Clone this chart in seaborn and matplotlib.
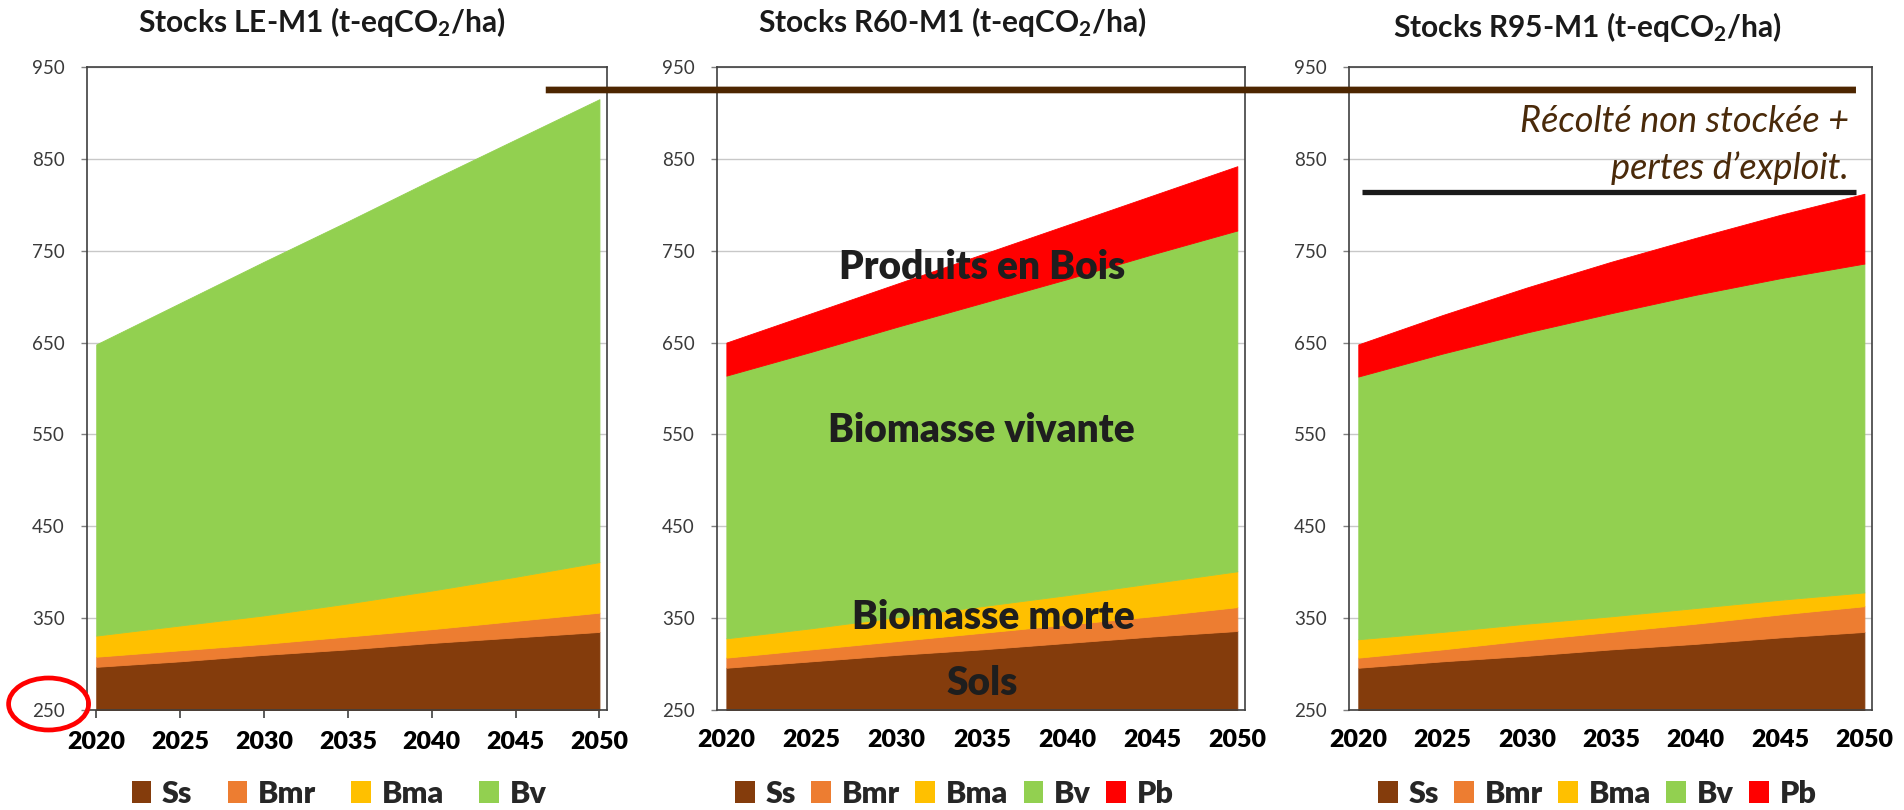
import numpy as np
import matplotlib
matplotlib.use("Agg")
import matplotlib.pyplot as plt
import seaborn as sns
from matplotlib.patches import Patch, Ellipse, ConnectionPatch

# ---------------- data ----------------
years = [2020, 2025, 2030, 2035, 2040, 2045, 2050]
legend_labels = ["Ss", "Bmr", "Bma", "Bv", "Pb"]
colors = ["#843C0C", "#ED7D31", "#FFC000", "#92D050", "#FF0000"]

titles = ["Stocks LE-M1 (t-eqCO$_2$/ha)",
          "Stocks R60-M1 (t-eqCO$_2$/ha)",
          "Stocks R95-M1 (t-eqCO$_2$/ha)"]

# cumulative upper boundaries of each stacked layer (t-eqCO2/ha)
le_ss_top  = [297, 303, 310, 316, 323, 329, 335]
le_bmr_top = [308, 315, 322, 330, 338, 347, 356]
le_bma_top = [331, 342, 353, 366, 380, 395, 411]
le_bv_top  = [648, 693, 738, 782, 827, 871, 915]

r60_ss_top  = [296, 303, 310, 316, 323, 330, 336]
r60_bmr_top = [307, 316, 325, 334, 343, 352, 362]
r60_bma_top = [328, 339, 351, 363, 375, 388, 401]
r60_bv_top  = [614, 640, 667, 693, 719, 746, 772]
r60_pb_top  = [650, 682, 714, 746, 778, 810, 842]

r95_ss_top  = [296, 303, 309, 316, 322, 329, 335]
r95_bmr_top = [307, 316, 326, 335, 344, 354, 363]
r95_bma_top = [327, 335, 344, 352, 361, 370, 378]
r95_bv_top  = [613, 638, 661, 682, 702, 720, 736]
r95_pb_top  = [648, 680, 710, 738, 764, 789, 812]

y_ticks = [250, 350, 450, 550, 650, 750, 850, 950]
x_ticks = [2020, 2025, 2030, 2035, 2040, 2045, 2050]

# annotation reference levels
ref_le_level = 925
ref_r95_level = 814


def layers(*tops):
    tops = [np.asarray(t, float) for t in tops]
    out = [tops[0]]
    for a, b in zip(tops[:-1], tops[1:]):
        out.append(b - a)
    return out


panels = [
    layers(le_ss_top, le_bmr_top, le_bma_top, le_bv_top),
    layers(r60_ss_top, r60_bmr_top, r60_bma_top, r60_bv_top, r60_pb_top),
    layers(r95_ss_top, r95_bmr_top, r95_bma_top, r95_bv_top, r95_pb_top),
]

# ---------------- style ----------------
sns.set_theme(style="white")
plt.rcParams['font.family'] = ['Lato', 'DejaVu Sans']
plt.rcParams['mathtext.default'] = 'regular'

W, H = 1904, 810
fig = plt.figure(figsize=(W / 100, H / 100), dpi=100)
fig.patch.set_facecolor("white")

frames = [(87, 607), (717, 1245), (1349, 1872)]
ytop, ybot = 67, 710
title_x = [322, 952, 1587]
title_y = [22, 22, 27]
legend_dx = [-0.015, -0.05, -0.025]
legend_colsp = [1.15, 0.5, 0.5]

axes = []
for i, (x0, x1) in enumerate(frames):
    ax = fig.add_axes([x0 / W, 1 - ybot / H, (x1 - x0) / W, (ybot - ytop) / H])
    axes.append(ax)
    comps = panels[i]
    ax.stackplot(years, *comps, colors=colors[:len(comps)],
                 edgecolor="face", linewidth=0.6, zorder=2)
    ax.set_xlim(2019.45, 2050.45)
    ax.set_ylim(250, 950)
    ax.set_yticks(y_ticks)
    ax.set_xticks(x_ticks)
    ax.set_xticklabels([str(x) for x in x_ticks])
    ax.yaxis.grid(True, color="#c8c8c8", linewidth=1.0)
    ax.xaxis.grid(False)
    ax.set_axisbelow(True)
    for s in ax.spines.values():
        s.set_visible(True)
        s.set_color("#404040")
        s.set_linewidth(1.2)
    ax.tick_params(axis="y", left=True, length=4, width=1, color="#808080",
                   labelsize=13.5, labelcolor="#3a3a3a", pad=12)
    if i == 0:
        ax.tick_params(axis="x", bottom=True, length=6, width=1.2, color="#404040",
                       labelsize=18, labelcolor="black", pad=9)
    else:
        ax.tick_params(axis="x", bottom=False, length=0,
                       labelsize=18, labelcolor="black", pad=14)
    for lbl in ax.get_xticklabels():
        lbl.set_fontweight("heavy")
    fig.text(title_x[i] / W, 1 - title_y[i] / H, titles[i], ha="center", va="center",
             fontsize=21.5, fontweight="bold", color="#1a1a1a")
    handles = [Patch(facecolor=c, edgecolor="none", label=l)
               for c, l in zip(colors[:len(comps)], legend_labels[:len(comps)])]
    ax.legend(handles=handles, loc="center", bbox_to_anchor=(0.5 + legend_dx[i], -0.13),
              ncol=len(handles), frameon=False, handlelength=0.65, handleheight=0.7,
              handletextpad=0.35, columnspacing=legend_colsp[i],
              prop={"weight": "heavy", "size": 22})

ax1, ax2, ax3 = axes

# labels inside the middle panel
txt_kw = dict(ha="center", va="center", fontsize=28, fontweight="heavy", color="#1e1e1e", zorder=6)
ax2.text(2035, 732, "Produits en Bois", **txt_kw)
ax2.text(2035, 554, "Biomasse vivante", **txt_kw)
ax2.text(2035.7, 351, "Biomasse morte", **txt_kw)
ax2.text(2035, 279, "Sols", **txt_kw)

# annotation in the right panel
it_kw = dict(ha="right", va="center", fontsize=26, style="italic", color="#4a2a0a", zorder=6)
ax3.text(2049.1, 891, "Récolté non stockée +", **it_kw)
ax3.text(2049.1, 840, "pertes d’exploit.", **it_kw)

ax3.plot([2020.2, 2049.5], [ref_r95_level, ref_r95_level], color="#1a1a1a",
         linewidth=3.8, solid_capstyle="butt", zorder=7, clip_on=False)

con = ConnectionPatch(xyA=(2046.8, ref_le_level), coordsA=ax1.transData,
                      xyB=(2049.5, ref_le_level), coordsB=ax3.transData,
                      color="#4d2600", linewidth=4.8, zorder=8)
con.set_capstyle("butt")
fig.add_artist(con)

# red circle round the first "250"
fig.add_artist(Ellipse((48.6 / W, 1 - 704 / H), 80 / W, 52 / H, transform=fig.transFigure,
                       fill=False, edgecolor="#FF0000", linewidth=3.4, zorder=10))

fig.savefig("out.png", dpi=100, facecolor="white")
